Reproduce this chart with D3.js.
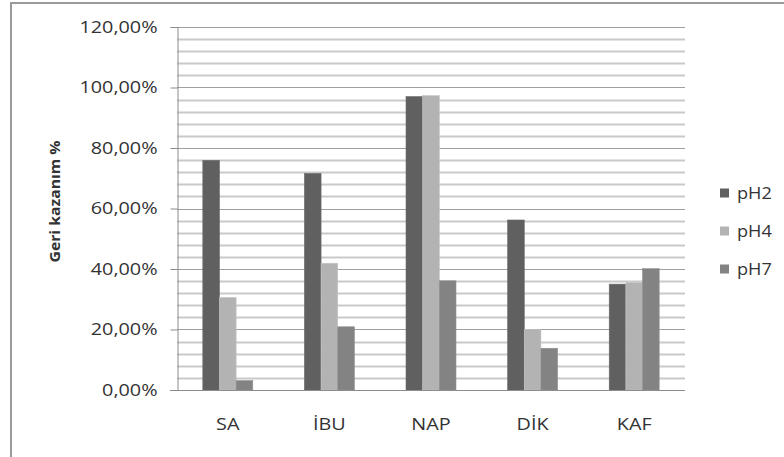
<!DOCTYPE html>
<html>
<head>
<meta charset="utf-8">
<script src="https://cdn.jsdelivr.net/npm/d3@7"></script>
<style>
  html, body { margin: 0; padding: 0; background: #fff; }
  svg text { font-family: "Open Sans", "Noto Sans", sans-serif; fill: #333; }
</style>
</head>
<body>
<svg id="chart" width="784" height="457"></svg>
<script>
// Recovery (%) by compound and pH
const categories = ["SA", "İBU", "NAP", "DİK", "KAF"];
const series = ["pH2", "pH4", "pH7"];
const pH2 = [0.759, 0.716, 0.970, 0.562, 0.350];
const pH4 = [0.306, 0.419, 0.973, 0.200, 0.355];
const pH7 = [0.031, 0.209, 0.361, 0.138, 0.401];
const yTicks = [0, 0.2, 0.4, 0.6, 0.8, 1.0, 1.2];
const yTitle = "Geri kazanım %";
const colors = ["#606060", "#b3b3b3", "#838383"];

const values = { pH2, pH4, pH7 };
const rows = categories.map((c, i) => ({ cat: c, vals: series.map(s => ({ s, v: values[s][i] })) }));

const trLocale = d3.formatLocale({ decimal: ",", thousands: ".", grouping: [3], currency: ["", "₺"] });
const pct = trLocale.format(".2%");

const svg = d3.select("#chart");
const plot = { left: 177, right: 685, top: 27, bottom: 390 };
const FS = 16.5; // label font size
const SX = 1.2;  // horizontal widening of label glyphs

// outer chart frame
svg.append("rect")
  .attr("x", 11).attr("y", 3).attr("width", 820).attr("height", 520)
  .attr("fill", "#fff").attr("stroke", "#9a9a9a").attr("stroke-width", 2);

const x = d3.scaleBand().domain(categories).range([plot.left, plot.right]).paddingInner(0).paddingOuter(0);
const xs = d3.scaleBand().domain(series).range([0, x.bandwidth()]).paddingInner(0).paddingOuter(1.55);
const y = d3.scaleLinear().domain([0, 1.2]).range([plot.bottom, plot.top]);

// minor gridlines every 4 %
const minor = d3.range(0.04, 1.2, 0.04).filter(v => Math.abs(v / 0.2 - Math.round(v / 0.2)) > 1e-6);
svg.append("g").selectAll("line").data(minor).join("line")
  .attr("x1", plot.left).attr("x2", plot.right)
  .attr("y1", d => Math.round(y(d)) + 0.5).attr("y2", d => Math.round(y(d)) + 0.5)
  .attr("stroke", "#c9c9c9").attr("stroke-width", 2);

// major gridlines
svg.append("g").selectAll("line").data(yTicks.slice(1)).join("line")
  .attr("x1", plot.left).attr("x2", plot.right)
  .attr("y1", d => Math.round(y(d)) + 0.5).attr("y2", d => Math.round(y(d)) + 0.5)
  .attr("stroke", "#a0a0a0").attr("stroke-width", 1.2);

// bars
const groups = svg.append("g").selectAll("g").data(rows).join("g")
  .attr("transform", d => `translate(${x(d.cat)},0)`);
groups.selectAll("rect").data(d => d.vals).join("rect")
  .attr("x", d => xs(d.s))
  .attr("width", xs.bandwidth())
  .attr("y", d => y(d.v))
  .attr("height", d => y(0) - y(d.v))
  .attr("fill", (d, i) => colors[i])
  .attr("stroke", (d, i) => d3.color(colors[i]).brighter(0.25))
  .attr("stroke-width", 0.6);

// y axis
const yAxis = d3.axisLeft(y).tickValues(yTicks).tickFormat(pct).tickSize(7).tickPadding(13);
const ya = svg.append("g").attr("transform", `translate(${plot.left + 0.5},0)`).call(yAxis);
ya.select(".domain").attr("stroke", "#8c8c8c");
ya.selectAll(".tick line").attr("stroke", "#8c8c8c");
ya.selectAll(".tick text")
  .attr("font-size", FS).attr("fill", "#333")
  .attr("font-family", null)
  .attr("transform", function () {
    const tx = +d3.select(this).attr("x");
    return `translate(${tx},0) scale(${SX},1) translate(${-tx},0)`;
  });

// x axis baseline and category labels
const xAxis = d3.axisBottom(x).tickSize(0).tickPadding(28);
const xa = svg.append("g").attr("transform", `translate(0,${plot.bottom + 0.5})`).call(xAxis);
xa.select(".domain").attr("stroke", "#8c8c8c").attr("d", `M${plot.left - 7},0H${plot.right}`);
xa.selectAll(".tick text")
  .attr("font-size", FS).attr("fill", "#333").attr("font-family", null)
  .attr("transform", `scale(${SX},1)`)
  .attr("x", 0);

// y axis title
svg.append("text")
  .attr("transform", `translate(60,${(plot.top + plot.bottom) / 2 - 7}) rotate(-90) scale(1.05,1)`)
  .attr("text-anchor", "middle")
  .attr("font-size", 15).attr("font-weight", "bold")
  .attr("fill", "#2a2a2a")
  .text(yTitle);

// legend
const legend = svg.append("g").selectAll("g").data(series).join("g")
  .attr("transform", (d, i) => `translate(720,${193 + i * 38})`);
legend.append("rect").attr("x", 0).attr("y", -4.5).attr("width", 9).attr("height", 9)
  .attr("fill", (d, i) => colors[i]);
legend.append("text")
  .attr("transform", `translate(17,0) scale(1.1,1)`)
  .attr("dy", "0.36em").attr("font-size", FS)
  .text(d => d);
</script>
</body>
</html>
